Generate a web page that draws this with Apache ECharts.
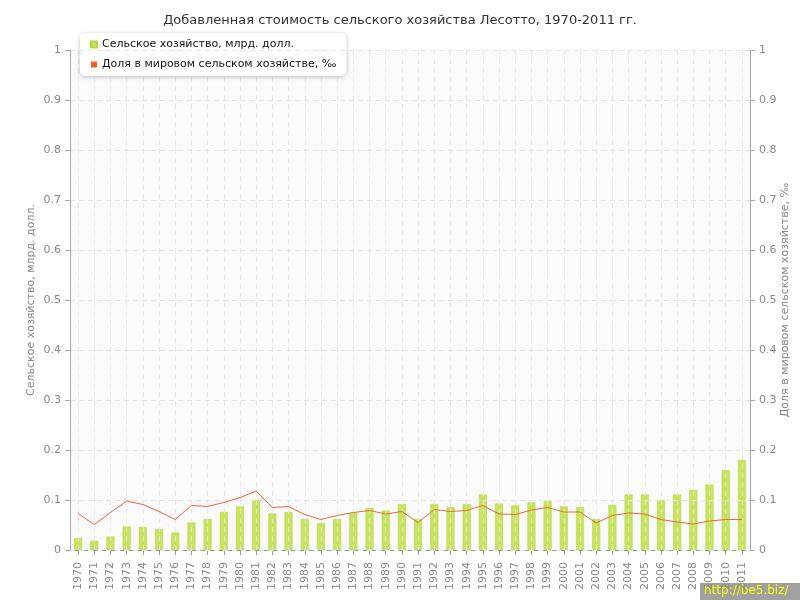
<!DOCTYPE html>
<html><head><meta charset="utf-8">
<script src="https://cdn.jsdelivr.net/npm/echarts@6/dist/echarts.min.js"></script>
<style>html,body{margin:0;padding:0;background:#fff}#c{width:800px;height:600px}</style>
</head><body><div id="c"></div>
<script>
const years = ['1970','1971','1972','1973','1974','1975','1976','1977','1978','1979','1980','1981','1982','1983','1984','1985','1986','1987','1988','1989','1990','1991','1992','1993','1994','1995','1996','1997','1998','1999','2000','2001','2002','2003','2004','2005','2006','2007','2008','2009','2010','2011'];
const agriValue = [0.024,0.018,0.027,0.047,0.046,0.042,0.035,0.055,0.062,0.076,0.087,0.100,0.073,0.076,0.062,0.054,0.062,0.074,0.084,0.079,0.092,0.062,0.092,0.086,0.092,0.111,0.093,0.089,0.095,0.098,0.087,0.086,0.062,0.090,0.111,0.111,0.100,0.111,0.120,0.131,0.160,0.180];
const worldShare = [0.073,0.051,0.075,0.098,0.091,0.077,0.061,0.089,0.087,0.095,0.105,0.118,0.085,0.087,0.071,0.061,0.069,0.075,0.079,0.072,0.077,0.055,0.081,0.077,0.079,0.089,0.072,0.071,0.080,0.085,0.076,0.076,0.054,0.069,0.074,0.072,0.061,0.056,0.052,0.058,0.061,0.061];
const seriesNames = ['Сельское хозяйство, млрд. долл.','Доля в мировом сельском хозяйстве, ‰'];

// helper axis: two slots per year, so every second slot boundary falls on a year's centre
const halfSlots = years.flatMap(y => [y + 'a', y + 'b']);

const chart = echarts.init(document.getElementById('c'));
const font = 'DejaVu Sans';
const yAx = (name, pos) => ({
  type:'value', min:0, max:1, interval:0.1, position:pos, z:4,
  name:name, nameLocation:'middle', nameGap: pos==='left'?33:30, nameMoveOverlap:false,
  nameTextStyle:{color:'#888', fontSize:11, fontFamily:font},
  axisLine:{show:true, onZero:false, lineStyle:{color:'#a8a8a8'}},
  axisTick:{show:true, length:5, lineStyle:{color:'#a8a8a8'}},
  axisLabel:{color:'#888', fontSize:11, fontFamily:font, margin:9},
  splitLine:{show: pos==='left', lineStyle:{color:'#e4e4e4', type:[5,4]}}
});
chart.setOption({
  animation:false,
  title:{text:'Добавленная стоимость сельского хозяйства Лесотто, 1970-2011 гг.', left:'center', top:9,
    textStyle:{fontSize:13, fontWeight:'normal', color:'#333', fontFamily:font}},
  legend:{orient:'vertical', left:80, top:33, itemWidth:6, itemHeight:6, itemGap:9, icon:'rect',
    padding:[6,10,6,10], backgroundColor:'#fff', borderRadius:5,
    shadowColor:'rgba(0,0,0,0.25)', shadowBlur:4, shadowOffsetY:1,
    textStyle:{fontSize:11, color:'#111', fontFamily:font}, data:seriesNames},
  grid:{left:70, right:50, top:50, bottom:50, show:true, backgroundColor:'#fafafa', borderWidth:0,
    containLabel:false, outerBoundsMode:'none'},
  xAxis:[
    {type:'category', data:years,
      axisLine:{lineStyle:{color:'#999'}},
      axisTick:{show:true, alignWithLabel:true, length:5, lineStyle:{color:'#999'}, interval:0},
      axisLabel:{rotate:90, interval:0, color:'#888', fontSize:11, fontFamily:font, margin:12},
      splitLine:{show:false}},
    {type:'category', data:halfSlots, position:'bottom', z:3,
      axisLine:{show:false}, axisTick:{show:false}, axisLabel:{show:false},
      splitLine:{show:true, interval:(i)=> i%2===1, lineStyle:{color:'rgba(228,228,228,0.9)', type:[5,4]}}}
  ],
  yAxis:[yAx('Сельское хозяйство, млрд. долл.','left'), yAx('Доля в мировом сельском хозяйстве, ‰','right')],
  series:[
    {name:seriesNames[0], type:'bar', data:agriValue, barWidth:8, yAxisIndex:0, xAxisIndex:0,
      itemStyle:{color:'#c8e35e', borderColor:'#b5d63e', borderWidth:0.6}},
    {name:seriesNames[1], type:'line', data:worldShare, yAxisIndex:1, xAxisIndex:0, z:5, symbol:'none',
      lineStyle:{color:'#e8693a', width:1}, itemStyle:{color:'#e8622a'}}
  ],
  graphic:[{type:'group', right:0, bottom:0, children:[
    {type:'rect', shape:{x:0,y:0,width:100,height:17}, style:{fill:'#a0a0a0'}},
    {type:'text', x:4, y:2, style:{text:'http://be5.biz/', fill:'#ffff00', fontSize:12, fontFamily:font}}
  ]}]
});
</script></body></html>
